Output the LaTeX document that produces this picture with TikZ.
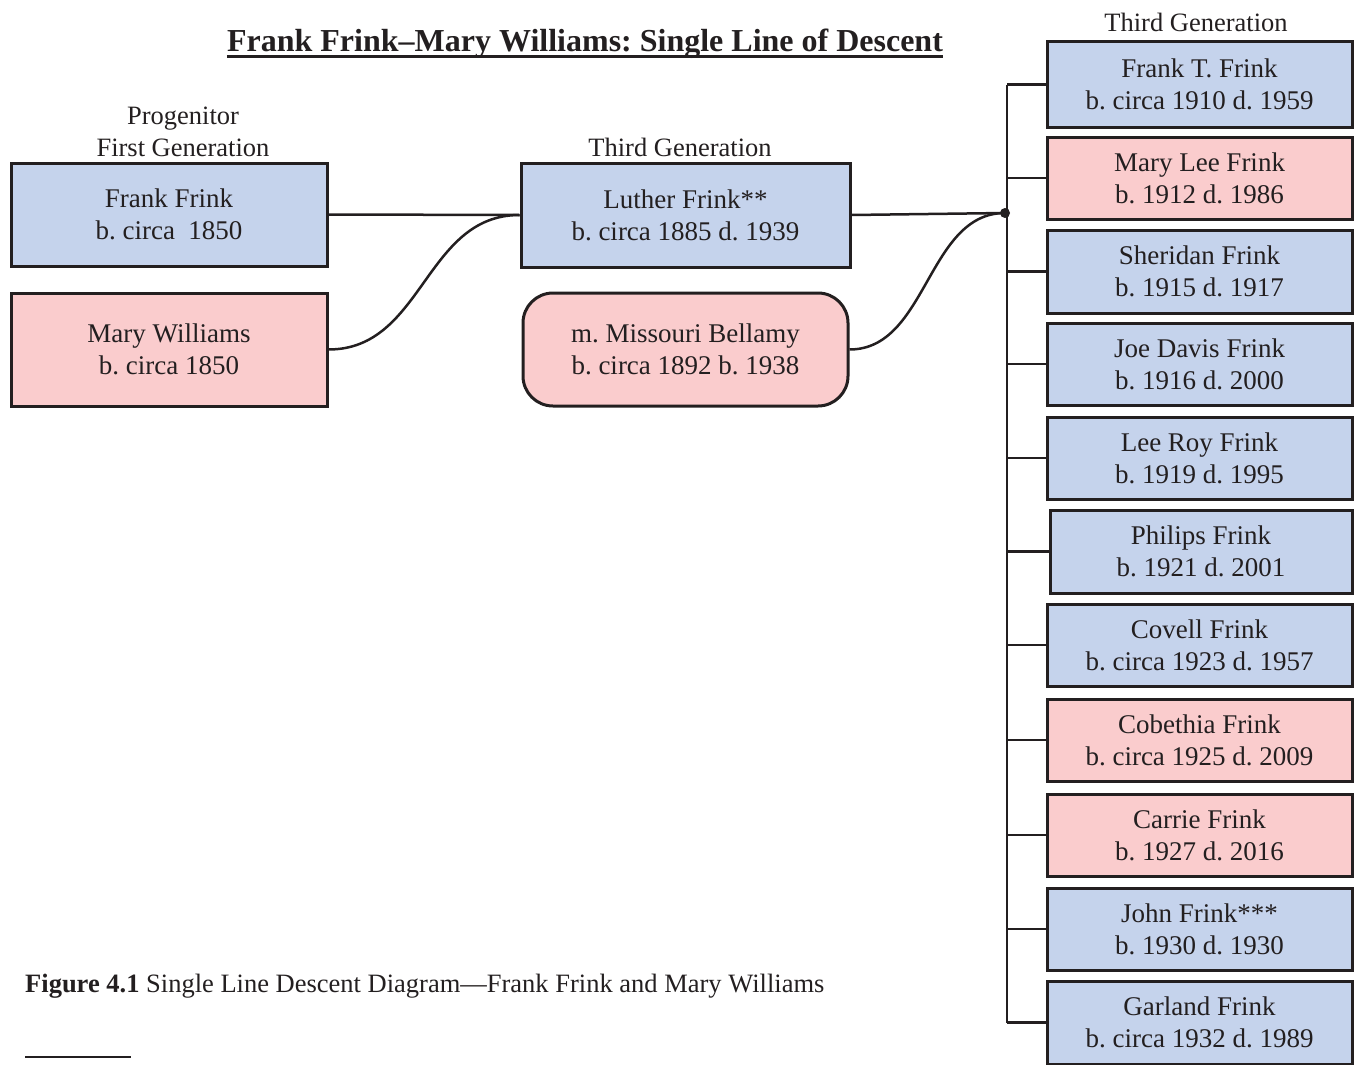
\documentclass[tikz,border=0pt]{standalone}
\usepackage{fontspec}
\setmainfont{Liberation Serif}
\definecolor{boxblue}{HTML}{C5D3EC}
\definecolor{boxpink}{HTML}{FACCCD}
\definecolor{ink}{HTML}{231F20}
\begin{document}
\frenchspacing
\begin{tikzpicture}[x=1pt,y=-1pt,
  person/.style={draw=ink, line width=3pt, inner sep=0pt, align=center, text=ink, font=\fontsize{27}{32}\selectfont},
  male/.style={person, fill=boxblue},
  female/.style={person, fill=boxpink},
  child/.style={minimum width=305pt, minimum height=82pt},
  link/.style={draw=ink, line width=2.5pt},
  lbl/.style={text=ink, font=\fontsize{26.5}{32}\selectfont, align=center, inner sep=0pt}
]
\useasboundingbox (0,0) rectangle (1354,1065);
\clip (0,0) rectangle (1354,1065);

% title
\node[text=ink, inner sep=0pt, anchor=base, font=\fontsize{32}{36}\selectfont\bfseries] (title) at (585,52) {Frank Frink–Mary Williams: Single Line of Descent};
\draw[ink, line width=2.5pt] ([yshift=-4.5pt]title.base west) -- ([yshift=-4.5pt]title.base east);

% generation labels
\node[lbl] (lprog) at (183,132) {Progenitor\\First Generation};
\node[lbl] (lthird) at (680,147) {Third Generation};
\node[lbl] (lthirdR) at (1196,22) {Third Generation};

% first generation
\node[male, minimum width=316pt, minimum height=103pt] (frank) at (169,214.5) {Frank Frink\\b. circa\ \ 1850};
\node[female, minimum width=316pt, minimum height=113pt] (mary) at (169,349.5) {Mary Williams\\b. circa 1850};

% second couple
\node[male, minimum width=329pt, minimum height=104pt] (luther) at (685.5,215) {Luther Frink**\\b. circa 1885 d. 1939};
\node[female, rounded corners=30pt, minimum width=325pt, minimum height=113pt] (missouri) at (685.5,349.5) {m. Missouri Bellamy\\b. circa 1892 b. 1938};

% children
\node[male, child, minimum height=85pt] (c1) at (1199.5,84.5) {Frank T. Frink\\b. circa 1910 d. 1959};
\node[female, child] (c2) at (1199.5,178) {Mary Lee Frink\\b. 1912 d. 1986};
\node[male, child, minimum height=83pt] (c3) at (1199.5,271.5) {Sheridan Frink\\b. 1915 d. 1917};
\node[male, child] (c4) at (1199.5,364) {Joe Davis Frink\\b. 1916 d. 2000};
\node[male, child] (c5) at (1199.5,458) {Lee Roy Frink\\b. 1919 d. 1995};
\node[male, child, minimum width=302pt, minimum height=83pt] (c6) at (1201,551.5) {Philips Frink\\b. 1921 d. 2001};
\node[male, child] (c7) at (1199.5,645) {Covell Frink\\b. circa 1923 d. 1957};
\node[female, child] (c8) at (1199.5,740) {Cobethia Frink\\b. circa 1925 d. 2009};
\node[female, child] (c9) at (1199.5,835) {Carrie Frink\\b. 1927 d. 2016};
\node[male, child] (c10) at (1199.5,929) {John Frink***\\b. 1930 d. 1930};
\node[male, child, minimum height=83pt] (c11) at (1199.5,1022.5) {Garland Frink\\b. circa 1932 d. 1989};

% connectors
\coordinate (sp) at (1007,0);
\coordinate (hub) at (1005,213);
\draw[link] (frank.east) -- (luther.west);
\draw[link] (mary.east) .. controls +(95,0) and +(-95,0) .. (luther.west);
\draw[link] (luther.east) -- (hub);
\draw[link] (missouri.east) .. controls +(78,0) and +(-78,0) .. (hub);
\fill[ink] (hub) circle (5pt);
\draw[link] (c1.west -| sp) -- (c11.west -| sp);
\foreach \i in {1,...,11} {
  \draw[link] (c\i.west -| sp) -- (c\i.west);
}

% caption
\node[text=ink, inner sep=0pt, anchor=base west, font=\fontsize{26.5}{30}\selectfont] (cap) at (25,992) {\textbf{Figure 4.1} Single Line Descent Diagram—Frank Frink and Mary Williams};
\draw[ink, line width=2.5pt] (25,1057) -- (131,1057);
\end{tikzpicture}
\end{document}
